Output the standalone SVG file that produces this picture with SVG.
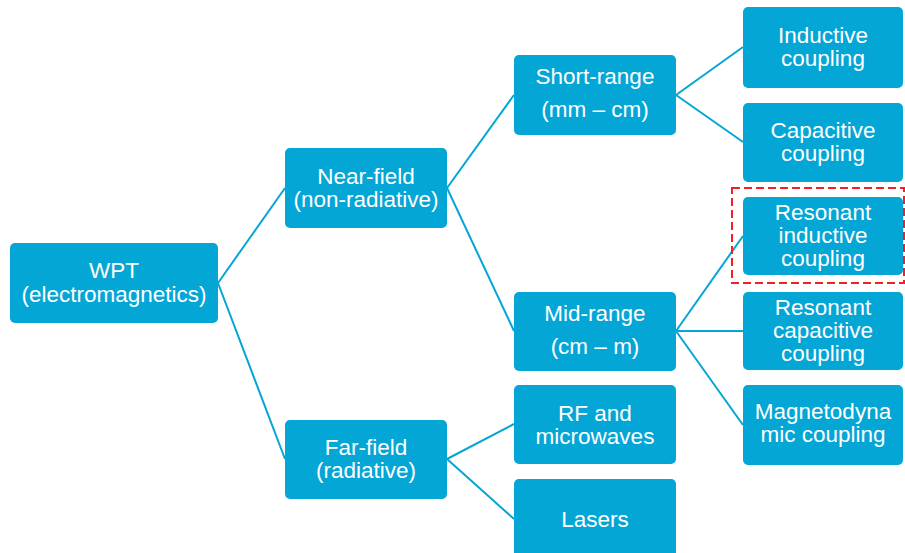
<svg xmlns="http://www.w3.org/2000/svg" width="905" height="553" viewBox="0 0 905 553">
<style>
.box{fill:#04A6D6;}
.t{font-family:"Liberation Sans",Arial,sans-serif;font-size:22.5px;fill:#FFFFFF;text-anchor:middle;}
.c{stroke:#04A6D6;stroke-width:2;fill:none;}
</style>
<rect width="905" height="553" fill="#FFFFFF"/>
<g id="connectors">
<path class="c" d="M218 283 L285 188 M218 283 L285 459"/>
<path class="c" d="M447 188 L514 95 M447 188 L514 331"/>
<path class="c" d="M676 95 L743 47 M676 95 L743 142"/>
<path class="c" d="M676 331 L743 236 M676 331 L743 331 M676 331 L743 425"/>
<path class="c" d="M447 459 L514 424 M447 459 L514 519"/>
</g>
<g id="wpt"><rect class="box" x="10" y="243" width="208" height="80" rx="5"/><text class="t" x="114" y="278">WPT</text><text class="t" x="114" y="302">(electromagnetics)</text></g>
<g id="near"><rect class="box" x="285" y="148" width="162" height="80" rx="5"/><text class="t" x="366" y="184">Near-field</text><text class="t" x="366" y="207">(non-radiative)</text></g>
<g id="far"><rect class="box" x="285" y="420" width="162" height="79" rx="5"/><text class="t" x="366" y="455">Far-field</text><text class="t" x="366" y="478">(radiative)</text></g>
<g id="short"><rect class="box" x="514" y="55" width="162" height="80" rx="5"/><text class="t" x="595" y="84">Short-range</text><text class="t" x="595" y="117">(mm – cm)</text></g>
<g id="mid"><rect class="box" x="514" y="292" width="162" height="79" rx="5"/><text class="t" x="595" y="321">Mid-range</text><text class="t" x="595" y="354">(cm – m)</text></g>
<g id="rf"><rect class="box" x="514" y="385" width="162" height="79" rx="5"/><text class="t" x="595" y="421">RF and</text><text class="t" x="595" y="444">microwaves</text></g>
<g id="lasers"><rect class="box" x="514" y="479" width="162" height="80" rx="5"/><text class="t" x="595" y="527">Lasers</text></g>
<g id="inductive"><rect class="box" x="743" y="7" width="160" height="81" rx="5"/><text class="t" x="823" y="43">Inductive</text><text class="t" x="823" y="66">coupling</text></g>
<g id="capacitive"><rect class="box" x="743" y="103" width="160" height="79" rx="5"/><text class="t" x="823" y="138">Capacitive</text><text class="t" x="823" y="161">coupling</text></g>
<g id="res-ind"><rect class="box" x="743" y="197" width="160" height="78" rx="5"/><text class="t" x="823" y="220">Resonant</text><text class="t" x="823" y="243">inductive</text><text class="t" x="823" y="266">coupling</text></g>
<g id="highlight"><rect x="732" y="188" width="172" height="95" fill="none" stroke="#F41E28" stroke-width="2" stroke-dasharray="8 4"/></g>
<g id="res-cap"><rect class="box" x="743" y="292" width="160" height="78" rx="5"/><text class="t" x="823" y="315">Resonant</text><text class="t" x="823" y="338">capacitive</text><text class="t" x="823" y="361">coupling</text></g>
<g id="magneto"><rect class="box" x="743" y="385" width="160" height="80" rx="5"/><text class="t" x="823" y="419">Magnetodyna</text><text class="t" x="823" y="442">mic coupling</text></g>
</svg>
